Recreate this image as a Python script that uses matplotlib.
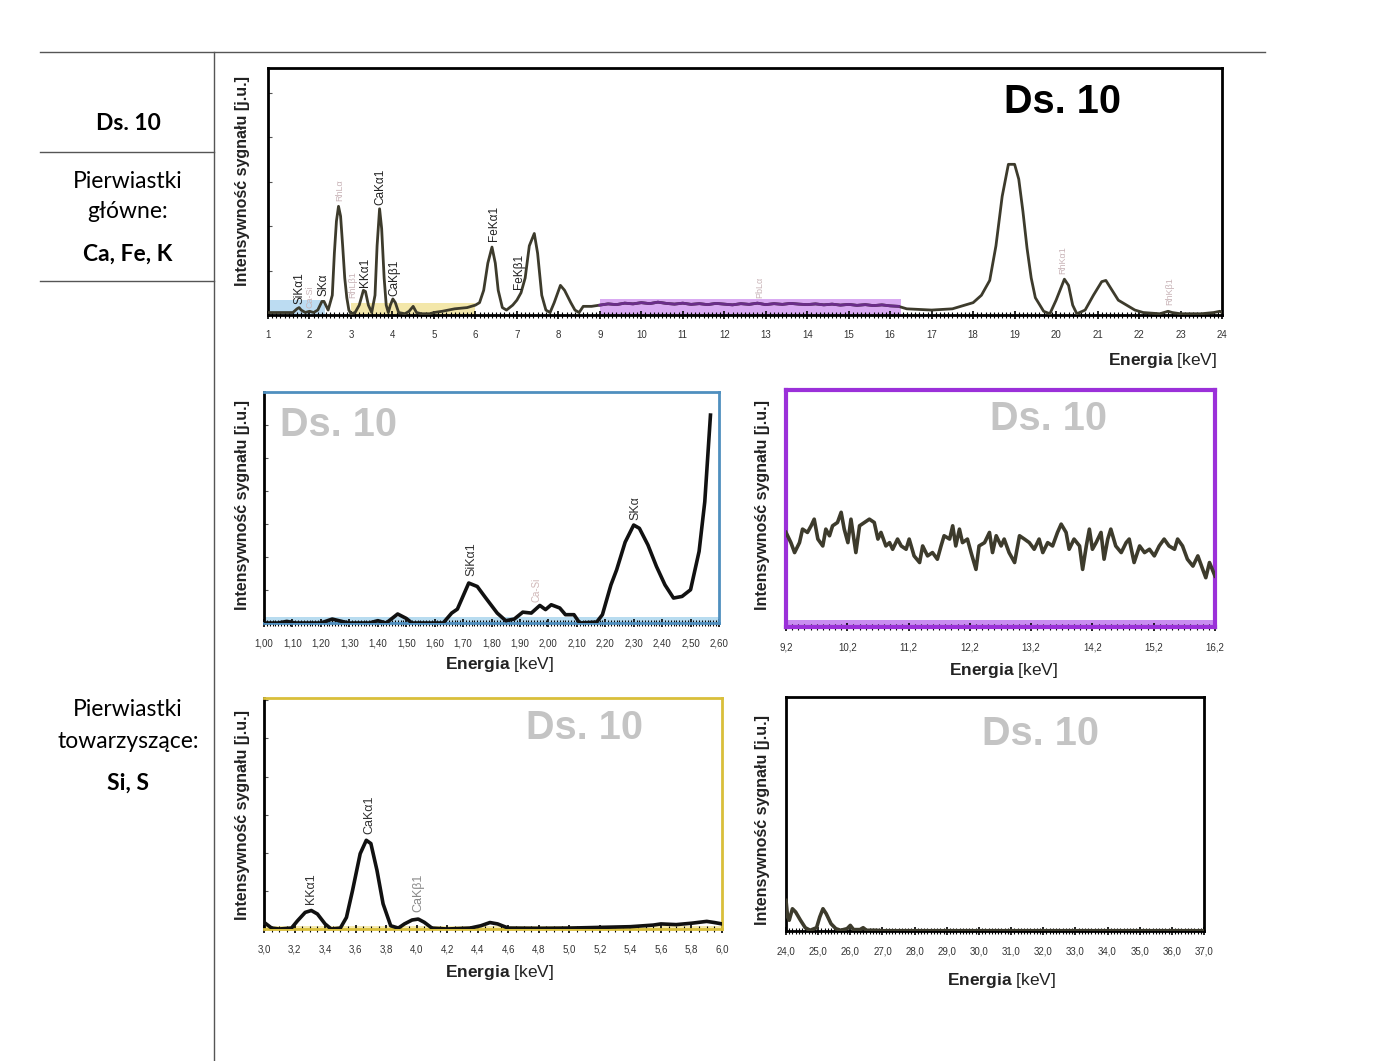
import matplotlib
matplotlib.use("Agg")
import matplotlib.pyplot as plt
from matplotlib.ticker import MultipleLocator, FuncFormatter

plt.rcParams['font.family'] = ['Liberation Sans', 'DejaVu Sans']
plt.rcParams['mathtext.fontset'] = 'custom'
plt.rcParams['mathtext.rm'] = 'Liberation Sans'
plt.rcParams['mathtext.bf'] = 'Liberation Sans:bold'

W, H = 1400, 1061

# --- widmo ogolne 1-24 keV (wartosci, skala 0-100) ---
main_e = [1.0, 1.2, 1.4, 1.6, 1.7, 1.75, 1.8, 1.9, 2.0, 2.1, 2.2, 2.3, 2.35, 2.45,
          2.55, 2.6, 2.65, 2.7, 2.75, 2.8, 2.85, 2.9, 2.95, 3.0, 3.1, 3.2, 3.3, 3.35,
          3.42, 3.5, 3.58, 3.63, 3.69, 3.74, 3.8, 3.85, 3.9, 3.95, 4.01, 4.07, 4.15,
          4.3, 4.4, 4.5, 4.58, 4.7, 4.9, 5.0, 5.2, 5.5, 5.8, 6.0, 6.1, 6.2, 6.3, 6.4,
          6.48, 6.55, 6.65, 6.75, 6.9, 7.0, 7.1, 7.2, 7.3, 7.42, 7.5, 7.6, 7.7, 7.8,
          7.9, 8.05, 8.15, 8.3, 8.4, 8.5, 8.6, 8.8, 9.0, 9.2, 9.4, 9.6, 9.8, 10.0,
          10.2, 10.4, 10.6, 10.8, 11.0, 11.2, 11.4, 11.6, 11.8, 12.0, 12.2, 12.4,
          12.6, 12.8, 13.0, 13.2, 13.4, 13.6, 13.8, 14.0, 14.2, 14.4, 14.6, 14.8,
          15.0, 15.2, 15.4, 15.6, 15.8, 16.0, 16.2, 16.4, 17.0, 17.5, 17.8, 18.0,
          18.2, 18.4, 18.55, 18.7, 18.85, 19.0, 19.1, 19.2, 19.3, 19.4, 19.5, 19.7,
          19.85, 20.0, 20.2, 20.3, 20.4, 20.5, 20.7, 20.9, 21.1, 21.2, 21.35, 21.5,
          21.7, 21.9, 22.1, 22.5, 22.7, 22.8, 23.0, 23.5, 23.8, 23.95, 24.0]
main_i = [1, 1, 1, 1, 2.5, 3, 2, 1, 1.5, 1, 2, 5.5, 5.5, 2,
          8, 25, 38, 44, 40, 28, 15, 7, 2, 0.5, 1, 4, 10, 9.5,
          4, 1, 8, 28, 43, 35, 15, 4, 1, 4, 6.5, 5, 1,
          0.5, 1.5, 3.5, 1, 0.5, 0.5, 1, 1.5, 2.5, 3, 4, 5, 10, 21, 27.5,
          21, 10, 3, 2, 4, 6, 9, 15, 28, 33, 25, 8, 2, 1,
          5, 12, 10, 5, 2, 1, 3.5, 3.5, 4, 4.5, 4.2, 4.8, 4.5, 5,
          4.6, 5.2, 4.7, 4.4, 4.8, 4.3, 4.6, 4.2, 4.7, 4.4, 4.1, 4.6,
          4.3, 4.8, 4.2, 4.6, 4.3, 4.7, 4.4, 4.2, 4.5, 4.1, 4.4, 4.0,
          4.3, 3.9, 4.2, 3.8, 4.1, 3.7, 3.5, 2.5, 2, 2.5, 4, 5,
          8, 14, 28, 48, 61, 61, 55, 42, 27, 15, 7, 1.5,
          0.5, 6, 14.5, 12, 4, 0.5, 2, 8, 13.5, 14, 10, 6,
          4, 2, 1, 0.5, 1.5, 1, 0.5, 0.5, 1, 1.5, 1]

main_peaks = ['SiKα1', 'Ca-Si', 'SKα', 'RhLα', 'RhLβ1', 'KKα1', 'CaKα1', 'CaKβ1',
              'FeKα1', 'FeKβ1', 'PbLα', 'RhKα1', 'RhKβ1']
main_peak_e = [1.75, 2.02, 2.33, 2.73, 3.05, 3.35, 3.72, 4.05, 6.45, 7.05, 12.85, 20.15, 22.75]
main_peak_y = [4.5, 3, 7.5, 46, 7, 11.5, 44.5, 7.5, 30, 10.5, 7, 16.5, 4]
main_peak_faint = [False, True, False, True, True, False, False, False, False, False, True, True, True]

# zakresy powiekszen zaznaczone na widmie ogolnym
zoom_ranges = [(1.05, 2.38), (3.0, 6.0), (9.0, 16.25)]
zoom_heights = [6, 5, 6.5]
zoom_colors = ['#bcdcf2', '#f3e7aa', '#d9aaf2']

# --- 1,00-2,60 keV ---
si_e = [1.00, 1.05, 1.08, 1.11, 1.20, 1.24, 1.28, 1.30, 1.37, 1.40, 1.43, 1.47, 1.50,
        1.52, 1.63, 1.66, 1.68, 1.72, 1.75, 1.78, 1.82, 1.85, 1.88, 1.91, 1.94, 1.97,
        1.99, 2.01, 2.04, 2.06, 2.09, 2.11, 2.17, 2.19, 2.22, 2.24, 2.27, 2.30, 2.32,
        2.35, 2.38, 2.41, 2.44, 2.47, 2.50, 2.53, 2.55, 2.57]
si_i = [0, 0, 0.7, 0, 0, 1.7, 0.5, 0, 0, 1, 0, 3.9, 2,
        0, 0, 4.3, 6, 17.3, 15.8, 10.8, 4.3, 1, 1.7, 4.7, 4.3, 7.6,
        5.8, 7.9, 6.5, 3.6, 3.6, 0, 0.4, 3.6, 16.5, 23, 35, 42.4, 41,
        33.8, 24.5, 16.5, 10.8, 11.5, 14.4, 31, 52.5, 90]
si_peaks = ['SiKα1', 'Ca-Si', 'SKα']
si_peak_e = [1.73, 1.96, 2.305]
si_peak_y = [20.5, 9, 44.5]

# --- 9,2-16,2 keV (szum tla) ---
bg_e = [9.20, 9.28, 9.34, 9.42, 9.47, 9.55, 9.61, 9.66, 9.72, 9.80, 9.85, 9.91, 9.96,
        10.04, 10.10, 10.15, 10.21, 10.26, 10.34, 10.40, 10.48, 10.56, 10.64, 10.70,
        10.75, 10.83, 10.89, 10.94, 11.02, 11.08, 11.16, 11.21, 11.29, 11.38, 11.43,
        11.51, 11.59, 11.67, 11.73, 11.78, 11.87, 11.92, 11.97, 12.03, 12.08, 12.16,
        12.22, 12.30, 12.35, 12.44, 12.52, 12.57, 12.63, 12.71, 12.76, 12.84, 12.93,
        13.01, 13.09, 13.17, 13.25, 13.33, 13.39, 13.47, 13.55, 13.63, 13.69, 13.77,
        13.82, 13.90, 13.99, 14.04, 14.10, 14.15, 14.20, 14.26, 14.34, 14.39, 14.45,
        14.50, 14.58, 14.67, 14.75, 14.80, 14.88, 14.97, 15.05, 15.13, 15.21, 15.29,
        15.37, 15.45, 15.54, 15.59, 15.67, 15.75, 15.84, 15.92, 16.00, 16.05, 16.11,
        16.20]
bg_i = [39.9, 35.6, 31.4, 35.6, 41.3, 39.9, 42.7, 45.5, 37.1, 34.2, 41.3, 38.5, 42.7,
        44.1, 48.4, 41.3, 35.6, 45.5, 31.4, 42.7, 44.1, 45.5, 44.1, 37.1,
        39.9, 34.2, 35.6, 32.8, 37.1, 34.2, 32.8, 37.1, 30.0, 27.2, 34.2,
        30.0, 31.4, 28.6, 34.2, 38.5, 37.1, 42.7, 34.2, 41.3, 35.6, 37.1,
        31.4, 24.3, 34.2, 35.6, 39.9, 31.4, 38.5, 34.2, 37.1, 31.4, 27.2,
        38.5, 37.1, 35.6, 32.8, 37.1, 31.4, 35.6, 34.2, 39.9, 43.4, 39.9,
        32.8, 37.1, 34.2, 24.3, 34.2, 41.3, 32.8, 35.6, 39.9, 28.6, 37.1,
        41.3, 34.2, 31.4, 35.6, 37.1, 27.2, 34.2, 31.4, 32.8, 30.0, 34.2,
        37.1, 34.2, 32.8, 37.1, 34.2, 28.6, 25.7, 30.0, 24.3, 20.8, 27.2,
        21.5]

# --- 3,0-6,0 keV ---
ca_e = [3.00, 3.05, 3.10, 3.18, 3.22, 3.27, 3.31, 3.35, 3.40, 3.44, 3.50, 3.54, 3.58,
        3.63, 3.67, 3.70, 3.74, 3.78, 3.83, 3.88, 3.92, 3.97, 4.01, 4.05, 4.10, 4.20,
        4.35, 4.42, 4.48, 4.53, 4.60, 4.80, 5.00, 5.20, 5.40, 5.55, 5.60, 5.70, 5.80,
        5.90, 5.95, 6.00]
ca_i = [2.9, 0.4, 0, 0.4, 3.6, 7.2, 8, 6.5, 2.2, 0, 0.4, 5, 16.7,
        32.6, 38.4, 37, 25.4, 10.9, 1.4, 0.4, 2.2, 3.9, 4.3, 2.9, 0.4, 0,
        0.4, 1.4, 2.8, 2.2, 0.4, 0.3, 0.4, 0.7, 1, 1.7, 2.2, 1.9, 2.5,
        3.3, 2.8, 2.2]
ca_peaks = ['KKα1', 'CaKα1', 'CaKβ1']
ca_peak_e = [3.31, 3.69, 4.01]
ca_peak_y = [11, 41, 7.5]

# --- 24,0-37,0 keV ---
hi_e = [24.0, 24.05, 24.1, 24.2, 24.3, 24.45, 24.6, 24.75, 24.95, 25.05, 25.15, 25.25,
        25.4, 25.55, 25.7, 25.9, 26.0, 26.1, 26.3, 26.4, 26.5, 26.8, 27.0, 37.0]
hi_i = [13.1, 6, 4.6, 9.5, 8.1, 4.6, 1.4, 0.3, 1.4, 6, 9.5, 7.4,
        3.1, 1, 0.3, 1, 2.4, 0.6, 0.6, 1.4, 0.3, 0.3, 0.1, 0.1]

OLIVE = '#3d3b2c'


def rect(x0, y0, x1, y1):
    return [x0 / W, 1 - y1 / H, (x1 - x0) / W, (y1 - y0) / H]


def px(x, y):
    return x / W, 1 - y / H


def style(ax, frame, lw, xlim, major, minor, dec, ystep, offset=0.0, left='black'):
    ax.set_xlim(*xlim)
    ax.set_ylim(0, 100)
    for s in ax.spines.values():
        s.set_color(frame)
        s.set_linewidth(lw)
    ax.spines['left'].set_color(left)
    ax.xaxis.set_major_locator(MultipleLocator(major, offset=offset))
    ax.xaxis.set_minor_locator(MultipleLocator(minor))
    ax.xaxis.set_major_formatter(FuncFormatter(lambda v, p: f"{v:.{dec}f}".replace('.', ',')))
    ax.yaxis.set_major_locator(MultipleLocator(ystep))
    ax.tick_params(axis='x', which='major', direction='inout', length=6, width=1.2,
                   labelsize=7, labelcolor='#333333', pad=8, color='black')
    ax.tick_params(axis='x', which='minor', direction='inout', length=4, width=0.8, color='black')
    ax.tick_params(axis='y', direction='in', length=3, labelleft=False, color='#555555')


def ylabel(x, y):
    fig.text(*px(x, y), 'Intensywność sygnału [j.u.]', rotation=90, ha='center', va='center',
             fontsize=11.5, fontweight='bold', color='#222222')


def xlabel(x, y, ha='center'):
    fig.text(*px(x, y), r'$\mathbf{Energia}$ [keV]', ha=ha, va='center', fontsize=12.5,
             color='#222222')


def ghost(x, y):
    fig.text(*px(x, y), 'Ds. 10', ha='center', va='center', fontsize=28.5, fontweight='bold',
             color='#c4c4c4')


fig = plt.figure(figsize=(W / 100, H / 100), dpi=100)

# ramka tabeli
lines = fig.add_axes([0, 0, 1, 1])
lines.set_xlim(0, W)
lines.set_ylim(H, 0)
lines.axis('off')
lines.plot([40, 1265], [52, 52], color='#555555', lw=1)
lines.plot([214, 214], [52, H], color='#555555', lw=1)
lines.plot([40, 214], [152, 152], color='#555555', lw=1)
lines.plot([40, 214], [281, 281], color='#555555', lw=1)

cal = ['Lato', 'DejaVu Sans']
fs = 16.5
fig.text(*px(128, 124), 'Ds. 10', ha='center', va='center', fontsize=fs, fontweight='bold', family=cal)
fig.text(*px(128, 181), 'Pierwiastki', ha='center', va='center', fontsize=fs, family=cal)
fig.text(*px(128, 212), 'główne:', ha='center', va='center', fontsize=fs, family=cal)
fig.text(*px(128, 254), 'Ca, Fe, K', ha='center', va='center', fontsize=fs, fontweight='bold', family=cal)
fig.text(*px(128, 710), 'Pierwiastki', ha='center', va='center', fontsize=fs, family=cal)
fig.text(*px(128, 741), 'towarzyszące:', ha='center', va='center', fontsize=fs, family=cal)
fig.text(*px(128, 783), 'Si, S', ha='center', va='center', fontsize=fs, fontweight='bold', family=cal)

# widmo ogolne
ax = fig.add_axes(rect(268, 68, 1222, 315))
style(ax, 'black', 2, (1, 24), 1, 0.1, 0, 18)
for (a, b), h, c in zip(zoom_ranges, zoom_heights, zoom_colors):
    ax.fill_between([a, b], 0, h, color=c, lw=0, zorder=1)
ax.plot(main_e, main_i, color=OLIVE, lw=2, zorder=3)
pe = [e for e in main_e if zoom_ranges[2][0] <= e <= zoom_ranges[2][1]]
pi = [v for e, v in zip(main_e, main_i) if zoom_ranges[2][0] <= e <= zoom_ranges[2][1]]
ax.plot(pe, pi, color='#6b2d8a', lw=2, zorder=4)
for t, e, y, f in zip(main_peaks, main_peak_e, main_peak_y, main_peak_faint):
    ax.text(e, y, t, rotation=90, ha='center', va='bottom', fontsize=6.5 if f else 8.5,
            color='#c9b4b8' if f else '#222222', zorder=5)
fig.text(*px(1062, 102), 'Ds. 10', ha='center', va='center', fontsize=28.5, fontweight='bold', color='black')
ylabel(243, 181)
xlabel(1217, 360, ha='right')

# 1,00-2,60 keV
ax = fig.add_axes(rect(264, 392, 719, 623))
style(ax, '#4f8fbf', 2, (1.0, 2.6), 0.1, 0.01, 2, 14.3)
ax.axhspan(0, 2.8, color='#b8dcf0', lw=0, zorder=1)
ax.plot(si_e, si_i, color='#111111', lw=2.6, zorder=3)
for t, e, y in zip(si_peaks, si_peak_e, si_peak_y):
    faint = t == 'Ca-Si'
    ax.text(e, y, t, rotation=90, ha='center', va='bottom', fontsize=7 if faint else 9,
            color='#d0b8b8' if faint else '#333333')
ghost(338, 425)
ylabel(243, 505)
xlabel(499, 664)

# 9,2-16,2 keV
ax = fig.add_axes(rect(786, 390, 1215, 627))
style(ax, '#9b30d9', 3, (9.2, 16.2), 1.0, 0.1, 1, 100, offset=0.2, left='#9b30d9')
ax.axhspan(0, 3, color='#c98ef0', lw=0, zorder=1)
ax.plot(bg_e, bg_i, color=OLIVE, lw=2.6, zorder=3)
ghost(1049, 419)
ylabel(762, 505)
xlabel(1003, 671)

# 3,0-6,0 keV
ax = fig.add_axes(rect(264, 698, 722, 929))
style(ax, '#d9bf3a', 2, (3.0, 6.0), 0.2, 0.05, 1, 16.5)
ax.axhspan(0, 1.5, color='#f5eab0', lw=0, zorder=1)
ax.plot(ca_e, ca_i, color='#111111', lw=2.6, zorder=3)
for t, e, y in zip(ca_peaks, ca_peak_e, ca_peak_y):
    ax.text(e, y, t, rotation=90, ha='center', va='bottom', fontsize=9,
            color='#8a8a8a' if t == 'CaKβ1' else '#333333')
ghost(584, 728)
ylabel(243, 815)
xlabel(499, 972)

# 24,0-37,0 keV
ax = fig.add_axes(rect(786, 697, 1204, 931))
style(ax, 'black', 2, (24.0, 37.0), 1.0, 0.1, 1, 100)
ax.plot(hi_e, hi_i, color=OLIVE, lw=2.6, zorder=3)
ghost(1040, 734)
ylabel(762, 820)
xlabel(1001, 980)

fig.savefig('out.png', dpi=100)
